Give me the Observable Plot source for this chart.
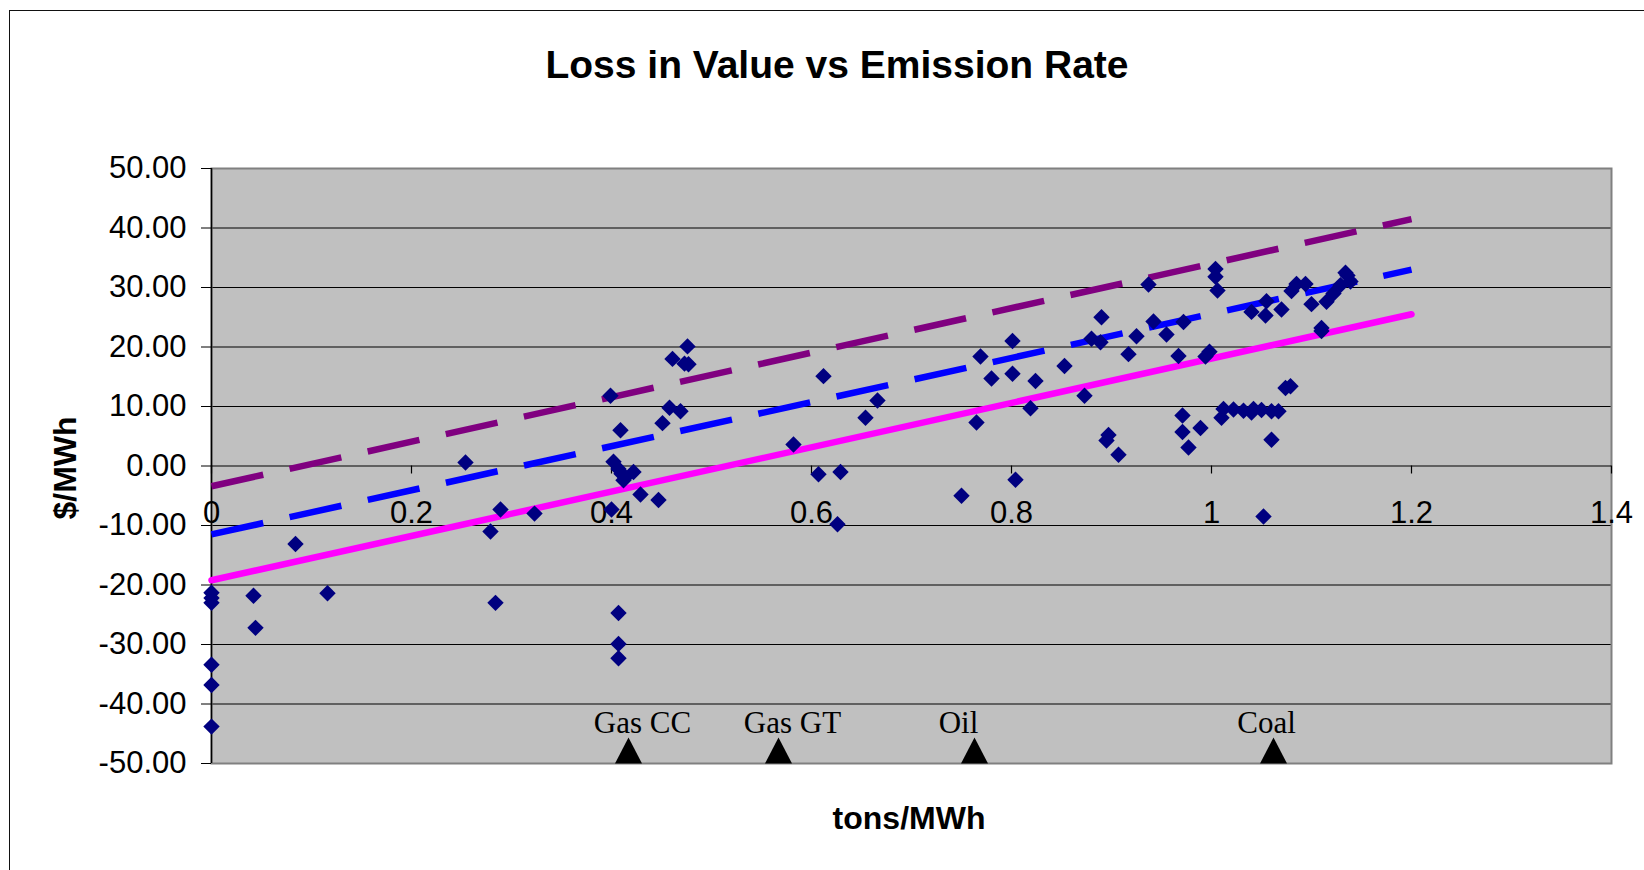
<!DOCTYPE html>
<html>
<head>
<meta charset="utf-8">
<script src="https://cdn.jsdelivr.net/npm/d3@7"></script>
<script src="https://cdn.jsdelivr.net/npm/@observablehq/plot@0.6"></script>
<style>
  html, body { margin: 0; padding: 0; background: #fff; overflow: hidden; }
  #wrap { position: relative; width: 1644px; height: 870px; overflow: hidden; font-family: "Liberation Sans", Arial, sans-serif; color: #000; }
  #frame { position: absolute; left: 9px; top: 10px; width: 1700px; height: 900px; border-left: 1.5px solid #111; border-top: 1.5px solid #111; }
  #title { position: absolute; left: 0; width: 1674px; top: 45px; text-align: center; font-weight: bold; font-size: 39px; line-height: 1; white-space: nowrap; }
  #xtitle { position: absolute; left: 609px; width: 600px; top: 802px; text-align: center; font-weight: bold; font-size: 32px; line-height: 1; white-space: nowrap; }
  #ytitle { position: absolute; left: 65px; top: 468px; transform: translate(-50%, -50%) rotate(-90deg); font-weight: bold; font-size: 32px; line-height: 1; white-space: nowrap; }
  #chart { position: absolute; left: 0; top: 0; }
</style>
</head>
<body>
<div id="wrap">
  <div id="frame"></div>
  <div id="chart"></div>
  <div id="title">Loss in Value vs Emission Rate</div>
  <div id="ytitle">$/MWh</div>
  <div id="xtitle">tons/MWh</div>
</div>
<script>
// Scatter data: emission rate (tons/MWh) and loss in value ($/MWh)
const emissionRate = [
  0, 0, 0, 0, 0, 0,
  0.042, 0.044, 0.084, 0.116,
  0.254, 0.279, 0.284, 0.289, 0.323,
  0.399, 0.409, 0.402, 0.407, 0.410, 0.422, 0.412, 0.414, 0.429, 0.447, 0.400, 0.407, 0.407, 0.407,
  0.451, 0.458, 0.469, 0.461, 0.473, 0.477, 0.476,
  0.582, 0.607, 0.612, 0.626, 0.629, 0.654, 0.666,
  0.750, 0.765, 0.769, 0.780, 0.801, 0.801, 0.804, 0.819, 0.824, 0.853, 0.873, 0.880, 0.889, 0.890,
  0.895, 0.897, 0.907, 0.917, 0.925, 0.937, 0.942, 0.955, 0.967, 0.972, 0.971, 0.971, 0.977, 0.989,
  0.994, 0.998, 1.004, 1.004, 1.006,
  1.010, 1.012, 1.022, 1.032, 1.040, 1.042, 1.050, 1.060, 1.067, 1.060, 1.052,
  1.074, 1.079,
  1.040, 1.054, 1.055, 1.070, 1.080, 1.085, 1.094, 1.100, 1.110, 1.110, 1.115, 1.122, 1.129, 1.134, 1.136, 1.139
];
const lossValue = [
  -21.3, -22.2, -23.0, -33.4, -36.8, -43.8,
  -21.8, -27.2, -13.1, -21.4,
  0.6, -11.0, -23.0, -7.3, -8.0,
  11.8, 6.0, 0.7, -0.5, -1.3, -1.0, -2.4, -1.9, -4.8, -5.7, -7.3, -24.7, -29.9, -32.3,
  7.2, 9.8, 9.2, 18.0, 17.2, 17.1, 20.1,
  3.6, -1.4, 15.1, -9.8, -1.0, 8.1, 11.0,
  -5.0, 7.3, 18.4, 14.7, 21.0, 15.5, -2.3, 9.7, 14.3, 16.8, 11.8, 21.4, 20.8, 25.0,
  4.3, 5.2, 1.9, 18.8, 21.8, 30.5, 24.3, 22.1, 18.5, 24.2, 8.5, 5.7, 3.1, 6.4,
  18.4, 19.2, 33.1, 31.8, 29.5,
  8.1, 9.6, 9.5, 9.3, 9.0, 9.6, 9.4, 9.2, 9.2, 4.4, -8.5,
  13.1, 13.4,
  25.9, 25.3, 27.7, 26.3, 29.4, 30.6, 30.6, 27.2, 22.7, 23.2, 27.6, 29.0, 30.4, 32.5, 32.0, 31.0
];

// Trend lines (endpoints)
const trendX = [0, 1.2];
const trendPurple = [-3.4, 41.5];
const trendBlue = [-11.5, 33.0];
const trendMagenta = [-19.2, 25.5];

// Fuel type markers
const fuelNames = ["Gas CC", "Gas GT", "Oil", "Coal"];
const fuelRate = [0.417, 0.567, 0.763, 1.062];
const fuelLabelX = [0.431, 0.581, 0.747, 1.055];

// Axis ticks
const yTicks = [-50, -40, -30, -20, -10, 0, 10, 20, 30, 40, 50];
const yGrid = [-40, -30, -20, -10, 10, 20, 30, 40];
const xTicks = [0, 0.2, 0.4, 0.6, 0.8, 1, 1.2, 1.4];
const xTickLabels = ["0", "0.2", "0.4", "0.6", "0.8", "1", "1.2", "1.4"];

const points = emissionRate.map((x, i) => ({x, y: lossValue[i]}));
const mkLine = (ys) => trendX.map((x, i) => ({x, y: ys[i]}));
const fuels = fuelNames.map((name, i) => ({name, x: fuelRate[i], lx: fuelLabelX[i]}));
const xTickData = xTicks.map((x, i) => ({x, label: xTickLabels[i]}));

const triangleUp = {
  draw(ctx, size) {
    const h = 26, w = 13.5;
    ctx.moveTo(0, -h);
    ctx.lineTo(w, 0);
    ctx.lineTo(-w, 0);
    ctx.closePath();
  }
};

const chart = Plot.plot({
  width: 1644,
  height: 870,
  marginLeft: 211,
  marginRight: 33,
  marginTop: 168,
  marginBottom: 107,
  x: {domain: [0, 1.4], axis: null},
  y: {domain: [-50, 50], axis: null},
  style: {background: "transparent", fontFamily: "'Liberation Sans', Arial, sans-serif", fontSize: "31px", color: "#000", overflow: "visible"},
  marks: [
    Plot.frame({fill: "#c0c0c0", stroke: null}),
    Plot.ruleY(yGrid, {stroke: "#000", strokeWidth: 1}),
    Plot.frame({stroke: "#808080", strokeWidth: 2, fill: "none"}),
    Plot.ruleX([0], {stroke: "#000", strokeWidth: 1.5}),
    Plot.ruleY([0], {stroke: "#000", strokeWidth: 1.2}),
    Plot.axisY(yTicks, {anchor: "left", tickSize: 10, tickPadding: 15, tickFormat: d => d.toFixed(2), fontSize: 31, label: null, stroke: "#000"}),
    Plot.ruleX(xTickData, {x: "x", y1: 0, y2: 0, insetBottom: -8, stroke: "#000", strokeWidth: 1.2}),
    Plot.text(xTickData, {x: "x", y: 0, text: "label", lineAnchor: "top", dy: 35, fontSize: 31, fill: "#000"}),
    Plot.line(mkLine(trendPurple), {x: "x", y: "y", stroke: "#800080", strokeWidth: 6.5, strokeDasharray: "53,27", strokeLinecap: "butt"}),
    Plot.line(mkLine(trendBlue), {x: "x", y: "y", stroke: "#0000ff", strokeWidth: 6.5, strokeDasharray: "53,27", strokeLinecap: "butt"}),
    Plot.line(mkLine(trendMagenta), {x: "x", y: "y", stroke: "#ff00ff", strokeWidth: 6.5, strokeLinecap: "round"}),
    Plot.dot(points, {x: "x", y: "y", symbol: "diamond2", r: 7.4, fill: "#000080", stroke: null}),
    Plot.dot(fuels, {x: "x", y: () => -50, symbol: triangleUp, r: 5, fill: "#000", stroke: null}),
    Plot.text(fuels, {x: "lx", y: () => -50, text: "name", dy: -31, lineAnchor: "bottom", fontSize: 31, fontFamily: "'Liberation Serif', 'Times New Roman', serif", fill: "#000"})
  ]
});
document.getElementById("chart").appendChild(chart);
</script>
</body>
</html>
